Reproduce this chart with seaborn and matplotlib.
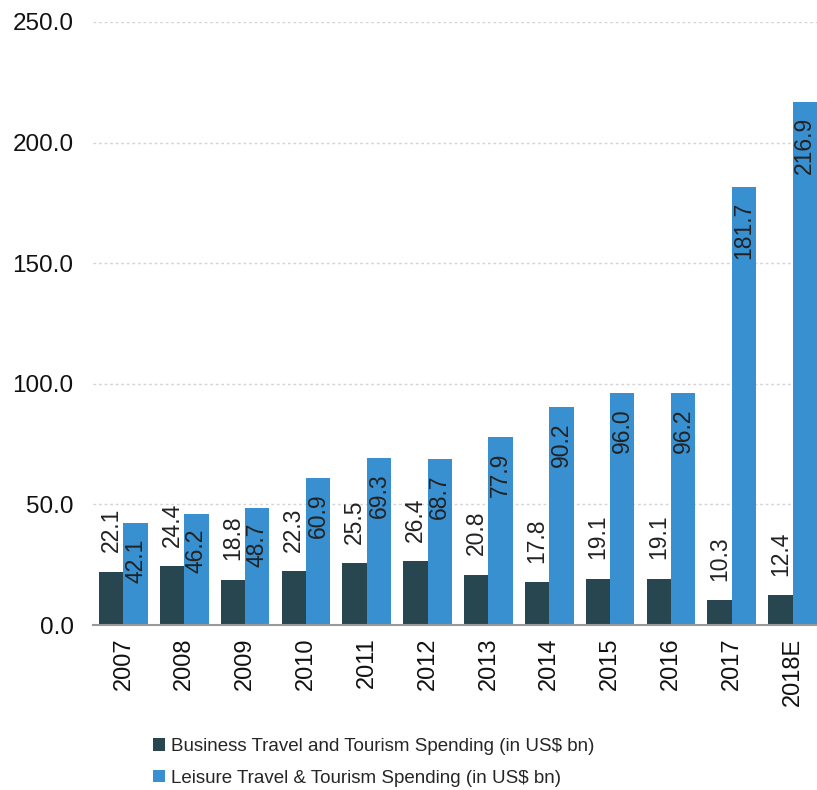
import pandas as pd
import seaborn as sns
import matplotlib.pyplot as plt
from matplotlib.patches import Patch
from matplotlib.ticker import FixedLocator, FormatStrFormatter

# values
years = ['2007', '2008', '2009', '2010', '2011', '2012', '2013', '2014', '2015', '2016', '2017', '2018E']
business = [22.1, 24.4, 18.8, 22.3, 25.5, 26.4, 20.8, 17.8, 19.1, 19.1, 10.3, 12.4]
leisure = [42.1, 46.2, 48.7, 60.9, 69.3, 68.7, 77.9, 90.2, 96.0, 96.2, 181.7, 216.9]
series_names = ['Business Travel and Tourism Spending (in US$ bn)',
                'Leisure Travel & Tourism Spending (in US$ bn)']
colors = ['#284650', '#3890d1']

df = pd.DataFrame({
    'year': years * 2,
    'value': business + leisure,
    'series': [series_names[0]] * len(years) + [series_names[1]] * len(years),
})

sns.set_style('white')
plt.rcParams['font.family'] = ['Liberation Sans', 'DejaVu Sans']

fig = plt.figure(figsize=(8.17, 7.90), dpi=100)
ax = fig.add_axes([93 / 817, 1 - 625 / 790, (823 - 93) / 817, (625 - 22) / 790])

sns.barplot(data=df, x='year', y='value', hue='series', palette=colors,
            saturation=1, width=0.8, ax=ax, legend=False, linewidth=0)

ax.set_ylim(0, 250)
ax.set_xlim(-0.5, len(years) - 0.5)
ax.set_yticks([0, 50, 100, 150, 200, 250])
ax.yaxis.set_major_formatter(FormatStrFormatter('%.1f'))
ax.tick_params(axis='y', labelsize=17.5, length=0, pad=14, labelcolor='#111111')
ax.tick_params(axis='x', which='major', labelsize=17, length=0, rotation=90, pad=9, labelcolor='#111111')
ax.xaxis.set_minor_locator(FixedLocator([i - 0.5 for i in range(len(years) + 1)]))
ax.tick_params(axis='x', which='minor', length=6, width=1.2, color='#999999', direction='out')
ax.set_xlabel('')
ax.set_ylabel('')

ax.yaxis.grid(True, color='#d4d4d4', linestyle=(0, (2, 2)), linewidth=1)
ax.set_axisbelow(True)
for s in ['left', 'right', 'top']:
    ax.spines[s].set_visible(False)
ax.spines['bottom'].set_color('#999999')
ax.spines['bottom'].set_linewidth(1.5)

# value labels: business above its bar, leisure inside the top of its bar
ax.bar_label(ax.containers[0], fmt='%.1f', rotation=90, padding=14, fontsize=16.5, color='#222222')
inside = ax.bar_label(ax.containers[1], fmt='%.1f', rotation=90, padding=-11, fontsize=16.5, color='#222222')
for t in inside:
    t.set_va('top')

handles = [Patch(facecolor=c, edgecolor='none') for c in colors]
fig.legend(handles, series_names, loc='upper left', bbox_to_anchor=(153 / 817, 1 - 738 / 790),
           frameon=False, fontsize=13.5, handlelength=0.65, handleheight=0.65,
           handletextpad=0.3, labelspacing=0.78, borderpad=0, borderaxespad=0)

fig.savefig('out.png', dpi=100)
